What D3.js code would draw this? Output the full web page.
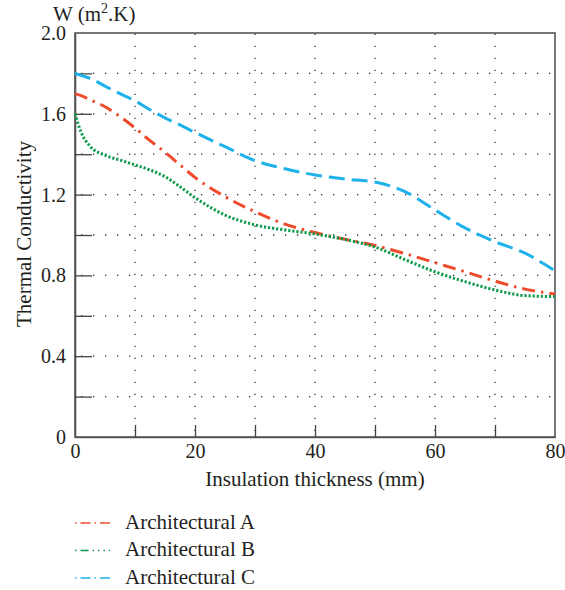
<!DOCTYPE html>
<html><head><meta charset="utf-8">
<script src="https://cdn.jsdelivr.net/npm/d3@7"></script>
<style>body{margin:0;background:#fff}text{font-family:"Liberation Serif","DejaVu Serif",serif;fill:#231f20}</style>
</head><body><svg id="c" width="565" height="590"></svg>
<script>
const thickness = [0,1,2.5,5,7.5,10,12.5,15,17.5,20,25,30,35,40,45,50,55,60,65,70,75,80];
const archA = [1.70,1.69,1.67,1.635,1.586,1.53,1.467,1.41,1.347,1.285,1.19,1.115,1.054,1.012,0.979,0.948,0.908,0.863,0.818,0.772,0.732,0.708];
const archB = [1.60,1.51,1.44,1.395,1.371,1.347,1.322,1.289,1.239,1.185,1.099,1.05,1.025,1.005,0.978,0.94,0.878,0.818,0.769,0.728,0.700,0.695];
const archC = [1.80,1.79,1.776,1.737,1.70,1.665,1.62,1.58,1.545,1.508,1.437,1.368,1.328,1.297,1.277,1.262,1.215,1.124,1.035,0.967,0.91,0.823];
const seriesNames = ["Architectural A","Architectural B","Architectural C"];
const xTickLabels = [0,20,40,60,80];
const yTickLabels = [0,0.4,0.8,1.2,1.6,2.0];

const colors = ["#ef4a2b","#0d9a4a","#1fb1ea"];
const dashes = ["13,6,2.5,6","2.2,1.9","16,7"];
const legendDashes = ["1.5,4,10,4","1.5,4,8,4,1.5,4,1.5,4","1.5,4,10,4"];

const svg = d3.select("#c");
const L=75,R=555,T=33,B=437;
const x = d3.scaleLinear().domain([0,80]).range([L,R]);
const y = d3.scaleLinear().domain([0,2]).range([B,T]);

// grid
const grid = svg.append("g").attr("stroke","#333").attr("stroke-width",1.3).attr("stroke-dasharray","1.3,10.7");
d3.range(10,80,10).forEach(v=>grid.append("line").attr("x1",x(v)).attr("x2",x(v)).attr("y1",B-6).attr("y2",T));
d3.range(1,10).map(i=>i*0.2).forEach(v=>grid.append("line").attr("x1",L+6).attr("x2",R).attr("y1",y(v)).attr("y2",y(v)));

// box
svg.append("rect").attr("x",L).attr("y",T).attr("width",R-L).attr("height",B-T).attr("fill","none").attr("stroke","#555").attr("stroke-width",1.6);

// axes
const xAxis = d3.axisBottom(x).tickValues(d3.range(0,81,10)).tickSizeInner(-12).tickSizeOuter(0).tickPadding(7)
  .tickFormat(d=>xTickLabels.includes(d)?d:"");
const gx = svg.append("g").attr("transform",`translate(0,${B})`).call(xAxis);
const yAxis = d3.axisLeft(y).tickValues(d3.range(0,11).map(i=>i*0.2)).tickSizeInner(-17).tickSizeOuter(0).tickPadding(9)
  .tickFormat(d=>yTickLabels.some(t=>Math.abs(t-d)<1e-6)?d3.format(".1f")(d).replace(/^0\.0$/,"0"):"");
const gy = svg.append("g").attr("transform",`translate(${L},0)`).call(yAxis);
[gx,gy].forEach(g=>{
  g.select(".domain").attr("stroke","#555").attr("stroke-width",1.6);
  g.selectAll(".tick line").attr("stroke","#444").attr("stroke-width",1.3);
  g.selectAll(".tick text").attr("font-size",20).attr("fill","#231f20").style("font-family","'Liberation Serif',serif");
});
gx.selectAll(".tick line").filter(d=>d===0||d===80).remove();
gy.selectAll(".tick line").filter(d=>Math.abs(d)<1e-6||Math.abs(d-2)<1e-6).remove();

// lines
const data=[archA,archB,archC];
const line = d3.line().x((d,i)=>x(thickness[i])).y(d=>y(d)).curve(d3.curveMonotoneX);
data.forEach((s,k)=>{
  svg.append("path").attr("d",line(s)).attr("fill","none").attr("stroke",colors[k])
   .attr("stroke-width",3).attr("stroke-dasharray",dashes[k]);
});

// labels
svg.append("text").attr("x",315).attr("y",486).attr("text-anchor","middle").attr("font-size",21).text("Insulation thickness (mm)");
svg.append("text").attr("transform",`translate(31,${(T+B)/2-1}) rotate(-90)`).attr("text-anchor","middle").attr("font-size",21).text("Thermal Conductivity");
const wt = svg.append("text").attr("x",53).attr("y",21).attr("font-size",21);
wt.append("tspan").text("W (m");
wt.append("tspan").attr("dy",-8).attr("font-size",14).text("2");
wt.append("tspan").attr("dy",8).text(".K)");

// legend
seriesNames.forEach((n,k)=>{
  const yy = 523 + k*27.5;
  svg.append("line").attr("x1",75).attr("x2",110).attr("y1",yy).attr("y2",yy).attr("stroke",colors[k]).attr("stroke-width",1.5).attr("stroke-dasharray",legendDashes[k]);
  svg.append("text").attr("x",125).attr("y",yy+5.5).attr("font-size",21).text(n);
});
</script></body></html>
